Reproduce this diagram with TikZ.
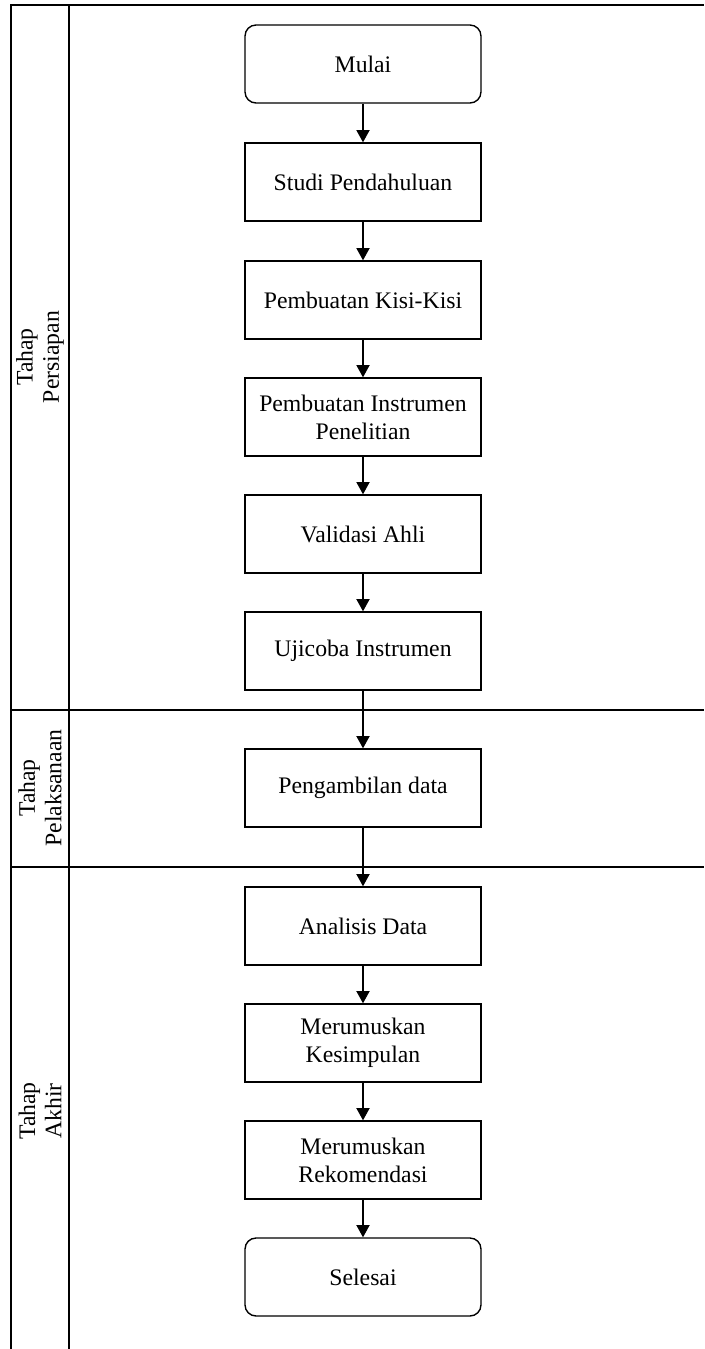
\documentclass[tikz,border=0pt]{standalone}
\usepackage{fontspec}
\setmainfont{Liberation Serif}
\usetikzlibrary{arrows.meta}
\begin{document}
\begin{tikzpicture}[x=0.02cm,y=0.02cm,
  line width=0.8pt,
  langkah/.style={draw, minimum width=4.72cm, minimum height=1.56cm, align=center, font=\fontsize{13.5}{16}\selectfont},
  ujung/.style={langkah, rounded corners=0.22cm},
  tahap/.style={rotate=90, align=center, font=\fontsize{13.5}{15}\selectfont},
  panah/.style={-{Triangle[length=7pt,width=7.5pt]}}]
\useasboundingbox (0,0) rectangle (704,-1349);
% lajur
\draw (11,-1349)--(11,-5)--(704,-5);
\draw (69,-5)--(69,-1349);
\draw (11,-710)--(704,-710);
\draw (11,-867)--(704,-867);
\node[tahap] (t1) at (40,-357) {Tahap\\Persiapan};
\node[tahap] (t2) at (40,-788) {Tahap\\Pelaksanaan};
\node[tahap] (t3) at (40,-1111) {Tahap\\Akhir};
% langkah
\node[ujung] (mulai) at (363,-64) {Mulai};
\node[langkah] (studi) at (363,-182) {Studi Pendahuluan};
\node[langkah] (kisi) at (363,-300) {Pembuatan Kisi-Kisi};
\node[langkah] (instrumen) at (363,-417) {Pembuatan Instrumen\\Penelitian};
\node[langkah] (validasi) at (363,-534) {Validasi Ahli};
\node[langkah] (ujicoba) at (363,-651) {Ujicoba Instrumen};
\node[langkah] (ambil) at (363,-788) {Pengambilan data};
\node[langkah] (analisis) at (363,-926) {Analisis Data};
\node[langkah] (simpul) at (363,-1043) {Merumuskan\\Kesimpulan};
\node[langkah] (rekom) at (363,-1160) {Merumuskan\\Rekomendasi};
\node[ujung] (selesai) at (363,-1277) {Selesai};
% panah
\draw[panah] (mulai)--(studi);
\draw[panah] (studi)--(kisi);
\draw[panah] (kisi)--(instrumen);
\draw[panah] (instrumen)--(validasi);
\draw[panah] (validasi)--(ujicoba);
\draw[panah] (ujicoba)--(ambil);
\draw[panah] (ambil)--(analisis);
\draw[panah] (analisis)--(simpul);
\draw[panah] (simpul)--(rekom);
\draw[panah] (rekom)--(selesai);
\end{tikzpicture}
\end{document}
